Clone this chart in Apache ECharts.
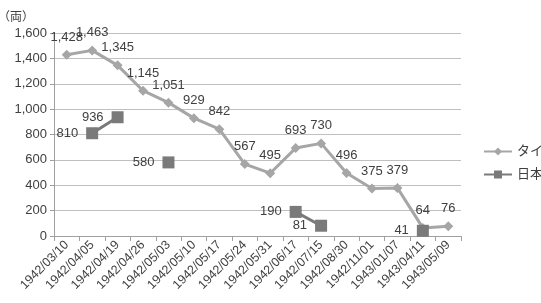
<!DOCTYPE html>
<html>
<head>
<meta charset="utf-8">
<script src="https://cdn.jsdelivr.net/npm/echarts@6/dist/echarts.min.js"></script>
<style>
  html, body { margin: 0; padding: 0; background: #fff; }
  #chart { width: 541px; height: 303px; }
</style>
</head>
<body>
<div id="chart"></div>
<script>
// 日付（カテゴリ）
const dates = [
  '1942/03/10', '1942/04/05', '1942/04/19', '1942/04/26', '1942/05/03', '1942/05/10',
  '1942/05/17', '1942/05/24', '1942/05/31', '1942/06/17', '1942/07/15', '1942/08/30',
  '1942/11/01', '1943/01/07', '1943/04/11', '1943/05/09'
]
// タイ
const thaiValues = [1428, 1463, 1345, 1145, 1051, 929, 842, 567, 495, 693, 730, 496, 375, 379, 64, 76]
// 日本（欠測は null）
const japanValues = [null, 810, 936, null, 580, null, null, null, null, 190, 81, null, null, null, 41, null]

const font = '"Liberation Sans", "Noto Sans CJK JP", sans-serif'
const textColor = '#404040'

const chart = echarts.init(document.getElementById('chart'))

chart.setOption({
  animation: false,
  textStyle: { fontFamily: font },
  grid: { left: 54, right: 80, top: 33, bottom: 67, outerBoundsMode: 'none' },
  legend: {
    orient: 'vertical',
    left: 478,
    top: 140,
    itemGap: 10,
    itemWidth: 28,
    itemHeight: 10,
    textStyle: { fontSize: 13, color: textColor, fontFamily: font },
    data: ['タイ', '日本']
  },
  xAxis: {
    type: 'category',
    data: dates,
    boundaryGap: true,
    axisLine: { lineStyle: { color: '#a0a0a0' } },
    axisTick: { show: true, alignWithLabel: false, length: 5, lineStyle: { color: '#a0a0a0' } },
    axisLabel: {
      interval: 0,
      rotate: 45,
      fontSize: 12.5,
      color: textColor,
      margin: 7
    }
  },
  yAxis: {
    type: 'value',
    min: 0,
    max: 1600,
    interval: 200,
    name: '（両）',
    nameLocation: 'end',
    nameGap: 9,
    nameTextStyle: { fontSize: 12, color: textColor, align: 'right', padding: [0, 20, 0, 0] },
    axisLine: { show: true, lineStyle: { color: '#a0a0a0' } },
    axisTick: { show: true, length: 4, lineStyle: { color: '#a0a0a0' } },
    axisLabel: {
      fontSize: 13,
      color: textColor,
      margin: 7,
      formatter: v => v.toLocaleString('en-US')
    },
    splitLine: { lineStyle: { color: '#c0c0c0', width: 1 } }
  },
  series: [
    {
      name: 'タイ',
      type: 'line',
      data: thaiValues,
      symbol: 'diamond',
      symbolSize: 10,
      lineStyle: { color: '#a6a6a6', width: 3 },
      itemStyle: { color: '#a6a6a6' },
      label: {
        show: true,
        position: 'top',
        distance: 6,
        fontSize: 13,
        color: textColor,
        formatter: p => p.value.toLocaleString('en-US')
      }
    },
    {
      name: '日本',
      type: 'line',
      data: japanValues,
      connectNulls: false,
      symbol: 'rect',
      symbolSize: 12,
      lineStyle: { color: '#7a7a7a', width: 3 },
      itemStyle: { color: '#7a7a7a' },
      label: {
        show: true,
        position: 'left',
        distance: 8,
        fontSize: 13,
        color: textColor
      }
    }
  ]
})
</script>
</body>
</html>
